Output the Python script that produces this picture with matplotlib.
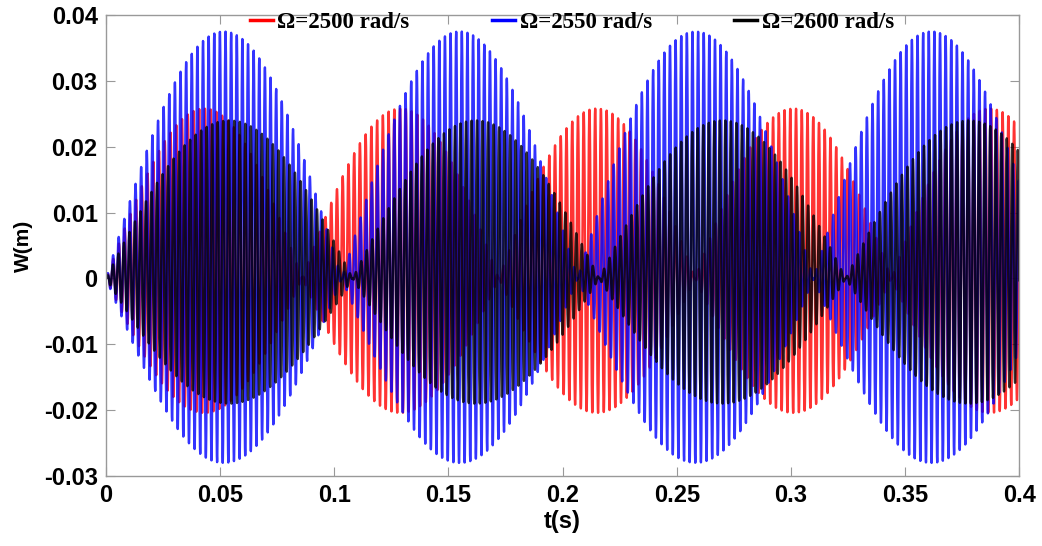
import numpy as np
import matplotlib
matplotlib.use('Agg')
import matplotlib.pyplot as plt

# values
speeds = [2500, 2550, 2600]                 # rad/s, legend
colors = ['#ff0000', '#0000ff', '#000000']
beat_period = [0.086, 0.1033, 0.108]        # s, node to node of the envelope
env_top = [0.0258, 0.0375, 0.0240]          # m, upper envelope at a lobe peak
env_bottom = [-0.0204, -0.0280, -0.0190]    # m, lower envelope at a lobe peak
carrier = [2500, 2550, 2600]                # rad/s, oscillation inside the envelope

xticks = [0, 0.05, 0.1, 0.15, 0.2, 0.25, 0.3, 0.35, 0.4]
xticklabels = ['0', '0.05', '0.1', '0.15', '0.2', '0.25', '0.3', '0.35', '0.4']
yticks = [-0.03, -0.02, -0.01, 0, 0.01, 0.02, 0.03, 0.04]
yticklabels = ['-0.03', '-0.02', '-0.01', '0', '0.01', '0.02', '0.03', '0.04']

t = np.linspace(0, 0.4, 12000)

fig = plt.figure(figsize=(10.42, 5.46), dpi=100)
ax = fig.add_axes([0.1017, 0.128, 0.8765, 0.8445])

for i in range(3):
    env = np.abs(np.sin(np.pi * t / beat_period[i]))
    mid = (env_top[i] + env_bottom[i]) / 2
    amp = (env_top[i] - env_bottom[i]) / 2
    w = env * (mid + amp * np.sin(carrier[i] * t))
    ax.plot(t, w, color=colors[i], lw=1.7, alpha=0.8,
            label='\u03a9=%d rad/s' % speeds[i])

ax.set_xlim(0, 0.4)
ax.set_ylim(-0.03, 0.04)
ax.set_xticks(xticks)
ax.set_xticklabels(xticklabels, fontsize=17, fontweight='bold',
                   family='Liberation Sans')
ax.set_yticks(yticks)
ax.set_yticklabels(yticklabels, fontsize=17, fontweight='bold',
                   family='Liberation Sans')
ax.tick_params(direction='in', length=6.5, width=0.8, color='#999999',
               top=True, right=True, pad=6)
for s in ax.spines.values():
    s.set_color('#999999')
    s.set_linewidth(1.0)

ax.set_xlabel('t(s)', fontsize=17, fontweight='bold',
              family='Liberation Sans', labelpad=2)
ax.set_ylabel('W(m)', fontsize=15, fontweight='bold',
              family='Liberation Sans', labelpad=8)

leg = ax.legend(loc='upper left', bbox_to_anchor=(0.135, 1.052), ncol=3,
                frameon=False, handlelength=1.0, handletextpad=0.2,
                columnspacing=3.6,
                prop={'family': 'Liberation Serif', 'weight': 'bold', 'size': 16.5})
for h in leg.get_lines():
    h.set_linewidth(2.5)
    h.set_alpha(1)

fig.savefig('out.png', dpi=100)
